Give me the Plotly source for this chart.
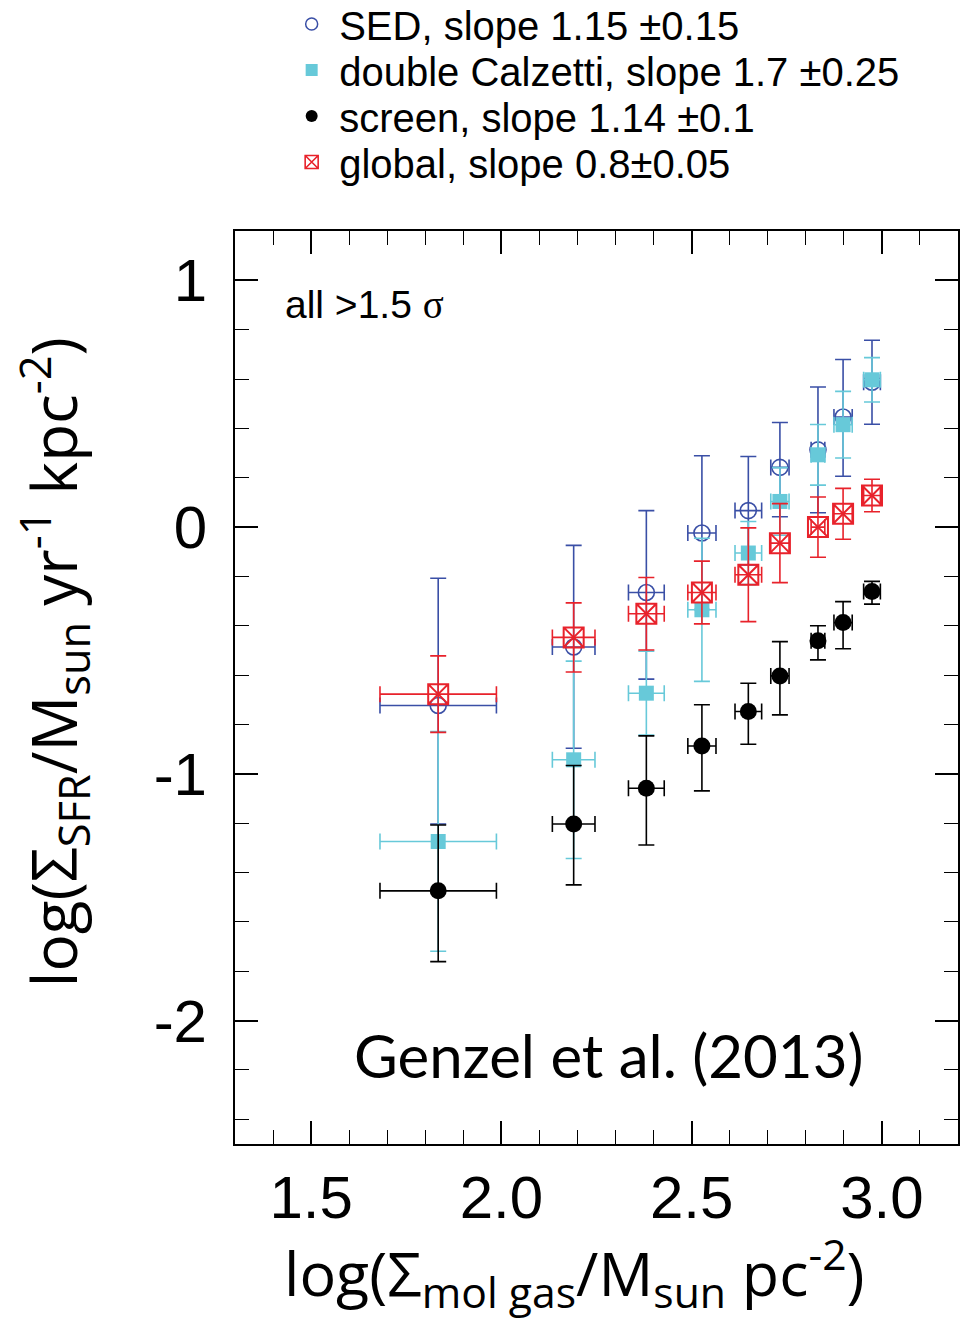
import plotly.graph_objects as go

# Molecular gas surface density bins, log(Sigma_mol gas / Msun pc^-2)
x_gas = [1.834, 2.190, 2.381, 2.527, 2.649, 2.732, 2.832, 2.898, 2.974]
x_err = [0.153, 0.056, 0.047, 0.037, 0.035, 0.024, 0.018, 0.024, 0.022]

# SED-based star formation surface density
sed_y = [-0.723, -0.486, -0.265, -0.024, 0.067, 0.242, 0.313, 0.446, 0.587]
sed_up = [0.516, 0.412, 0.332, 0.313, 0.219, 0.182, 0.255, 0.233, 0.17]
sed_dn = [0.480, 0.410, 0.351, 0.310, 0.220, 0.200, 0.255, 0.240, 0.17]

# double Calzetti extinction
dc_y = [-1.274, -0.943, -0.673, -0.335, -0.105, 0.104, 0.293, 0.415, 0.597]
dc_err = [0.445, 0.400, 0.170, 0.290, 0.128, 0.137, 0.123, 0.135, 0.090]

# foreground screen extinction
scr_y = [-1.474, -1.203, -1.058, -0.887, -0.747, -0.603, -0.461, -0.387, -0.261]
scr_up = [0.267, 0.237, 0.212, 0.167, 0.114, 0.139, 0.061, 0.085, 0.041]
scr_dn = [0.287, 0.247, 0.230, 0.182, 0.133, 0.158, 0.077, 0.106, 0.051]

# global values
glb_y = [-0.677, -0.447, -0.351, -0.265, -0.193, -0.065, 0.000, 0.054, 0.128]
glb_err = [0.155, 0.140, 0.147, 0.127, 0.190, 0.160, 0.122, 0.103, 0.066]

legend_names = [
    "SED, slope 1.15 \u00b10.15",
    "double Calzetti, slope 1.7 \u00b10.25",
    "screen, slope 1.14 \u00b10.1",
    "global, slope 0.8\u00b10.05",
]

BLUE = "#3a4fa6"
CYAN = "#67c9d9"
BLACK = "#000000"
RED = "#e8222b"

y_tickvals = [-2, -1, 0, 1]
y_ticktext = ["-2", "-1", "0", "1"]
x_tickvals = [1.5, 2.0, 2.5, 3.0]
x_ticktext = ["1.5", "2.0", "2.5", "3.0"]


def err_x(color):
    return dict(type="data", array=x_err, color=color, thickness=1.6, width=8)


def err_y(color, up, dn):
    return dict(type="data", symmetric=False, array=up, arrayminus=dn,
                color=color, thickness=1.6, width=8)


fig = go.Figure()

series = [
    (legend_names[0], sed_y, sed_up, sed_dn, BLUE,
     dict(symbol="circle-open", size=16, color=BLUE, line=dict(color=BLUE, width=1.6))),
    (legend_names[1], dc_y, dc_err, dc_err, CYAN,
     dict(symbol="square", size=15, color=CYAN, line=dict(width=0))),
    (legend_names[2], scr_y, scr_up, scr_dn, BLACK,
     dict(symbol="circle", size=17, color=BLACK, line=dict(width=0))),
    (legend_names[3], glb_y, glb_err, glb_err, RED,
     dict(symbol="square-x-open", size=20, color=RED, line=dict(color=RED, width=2))),
]

for name, ys, up, dn, col, mk in series:
    fig.add_trace(go.Scatter(
        x=x_gas, y=ys, mode="markers", marker=mk, showlegend=False,
        error_x=err_x(col), error_y=err_y(col, up, dn), name=name,
    ))

# marker-only entries, one small legend per row
legend_markers = [
    dict(symbol="circle-open", size=12, color=BLUE, line=dict(color=BLUE, width=1.5)),
    dict(symbol="square", size=12, color=CYAN, line=dict(width=0)),
    dict(symbol="circle", size=12, color=BLACK, line=dict(width=0)),
    dict(symbol="square-x-open", size=13, color=RED, line=dict(color=RED, width=1.6)),
]
legend_ids = ["legend", "legend2", "legend3", "legend4"]
legend_rows_y = [1.2267, 1.1764, 1.1260, 1.0756]

for name, mk, lid in zip(legend_names, legend_markers, legend_ids):
    fig.add_trace(go.Scatter(x=[None], y=[None], mode="markers", marker=mk,
                             name=name, showlegend=True, legend=lid))

legend_font = dict(family="Liberation Sans, Arial, sans-serif", size=40, color="black")
legend_layout = {
    lid: dict(x=0.068, y=ly, xanchor="left", yanchor="middle", font=legend_font,
              bgcolor="rgba(0,0,0,0)", itemwidth=45)
    for lid, ly in zip(legend_ids, legend_rows_y)
}

axis_common = dict(
    showline=True, linecolor="black", linewidth=2, mirror="allticks",
    ticks="inside", tickcolor="black", tickwidth=1.5, ticklen=23,
    showgrid=False, zeroline=False,
    tickfont=dict(family="Liberation Sans, Arial, sans-serif", size=60, color="black"),
)

fig.update_layout(
    width=964, height=1326,
    margin=dict(l=235, r=6, t=231, b=182, autoexpand=False),
    paper_bgcolor="white", plot_bgcolor="white",
    xaxis=dict(range=[1.3, 3.2], tickmode="array", tickvals=x_tickvals, ticktext=x_ticktext,
               minor=dict(tickmode="linear", tick0=0, dtick=0.1, ticks="inside",
                          ticklen=14, tickwidth=1.3, tickcolor="black"),
               **axis_common),
    yaxis=dict(range=[-2.5, 1.2], tickmode="array", tickvals=y_tickvals, ticktext=y_ticktext,
               ticklabelstandoff=14,
               minor=dict(tickmode="linear", tick0=0, dtick=0.2, ticks="inside",
                          ticklen=14, tickwidth=1.3, tickcolor="black"),
               **axis_common),
    annotations=[
        dict(text="all >1.5 <span style='font-family:Liberation Serif, serif'>\u03c3</span>",
             xref="paper", yref="paper", x=0.066, y=0.919, xanchor="left", yanchor="middle",
             showarrow=False,
             font=dict(family="Liberation Sans, Arial, sans-serif", size=39, color="black")),
        dict(text="Genzel et al. (2013)", xref="paper", yref="paper", x=0.516, y=0.0975,
             xanchor="center", yanchor="middle", showarrow=False,
             font=dict(family="Lato, sans-serif", size=60, color="black")),
        dict(text="log(\u03a3<sub>SFR</sub>/M<sub>sun</sub> yr<sup>-1</sup> kpc<sup>-2</sup>)",
             xref="paper", yref="paper", x=-0.25, y=0.528, xanchor="center", yanchor="middle",
             textangle=-90, showarrow=False,
             font=dict(family="Open Sans, sans-serif", size=62, color="black")),
        dict(text="log(\u03a3<sub>mol gas</sub>/M<sub>sun</sub> pc<sup>-2</sup>)",
             xref="paper", yref="paper", x=0.469, y=-0.141, xanchor="center", yanchor="middle",
             showarrow=False,
             font=dict(family="Open Sans, sans-serif", size=61, color="black")),
    ],
    **legend_layout,
)

fig.write_html("out.html")
